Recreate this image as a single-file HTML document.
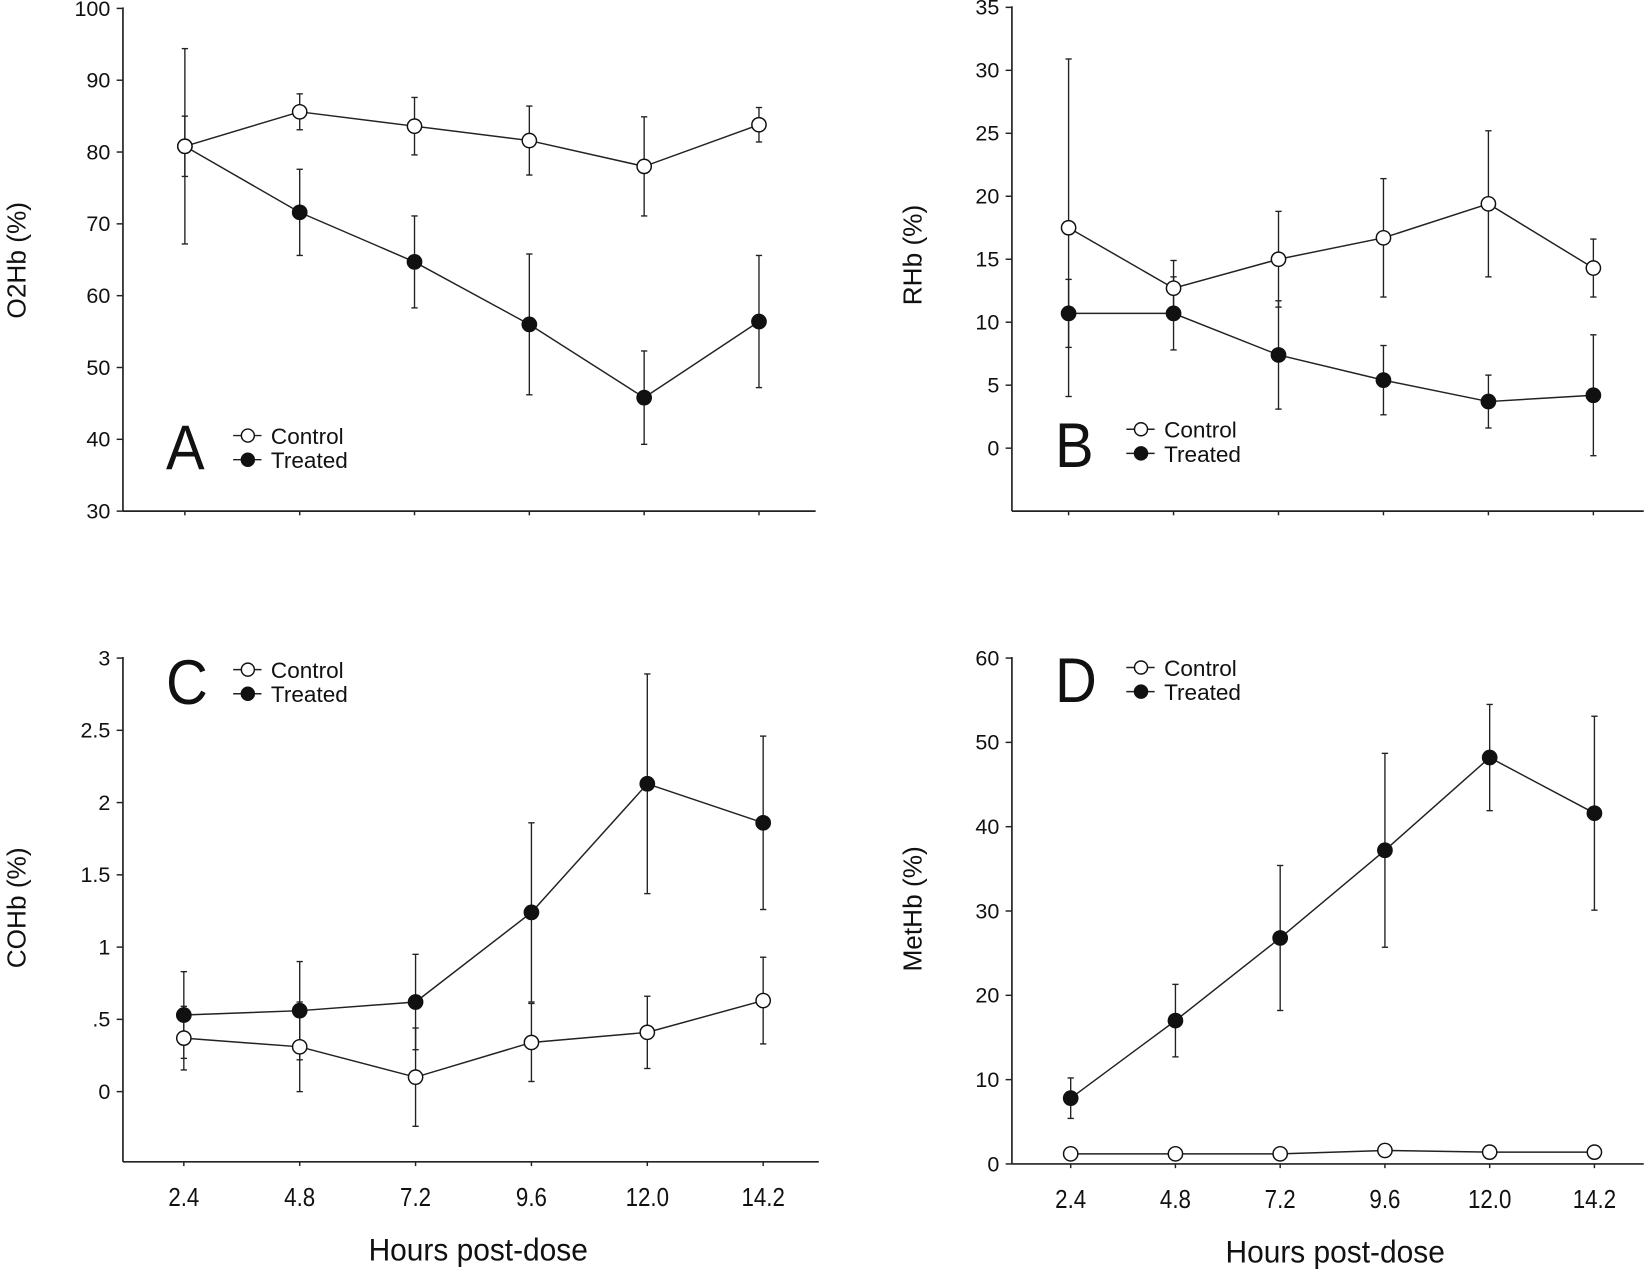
<!DOCTYPE html>
<html><head><meta charset="utf-8"><style>
html,body{margin:0;padding:0;background:#fff;}
svg{display:block;}
text{font-family:"Liberation Sans",sans-serif;fill:#111;}
</style></head>
<body>
<svg id="fig" width="1646" height="1271" viewBox="0 0 1568 1211" xmlns="http://www.w3.org/2000/svg"></svg>
<script>
const xCats = ["2.4","4.8","7.2","9.6","12.0","14.2"];
// Panel A: O2Hb
const aControl = [80.8, 85.6, 83.6, 81.6, 78.0, 83.8];
const aControlErr = [4.2, 2.5, 4.0, 4.8, 6.9, 2.4];
const aTreated = [80.8, 71.6, 64.7, 56.0, 45.8, 56.4];
const aTreatedErr = [13.6, 6.0, 6.4, 9.8, 6.5, 9.2];
const aTicks = [30,40,50,60,70,80,90,100];
const aTickLabels = ["30","40","50","60","70","80","90","100"];
// Panel B: RHb
const bControl = [17.5, 12.7, 15.0, 16.7, 19.4, 14.3];
const bControlErr = [13.4, 2.2, 3.8, 4.7, 5.8, 2.3];
const bTreated = [10.7, 10.7, 7.4, 5.4, 3.7, 4.2];
const bTreatedErr = [2.7, 2.9, 4.3, 2.75, 2.1, 4.8];
const bTicks = [0,5,10,15,20,25,30,35];
const bTickLabels = ["0","5","10","15","20","25","30","35"];
// Panel C: COHb
const cControl = [0.37, 0.31, 0.10, 0.34, 0.41, 0.63];
const cControlErr = [0.22, 0.31, 0.34, 0.27, 0.25, 0.30];
const cTreated = [0.53, 0.56, 0.62, 1.24, 2.13, 1.86];
const cTreatedErr = [0.30, 0.34, 0.33, 0.62, 0.76, 0.60];
const cTicks = [0,0.5,1,1.5,2,2.5,3];
const cTickLabels = ["0",".5","1","1.5","2","2.5","3"];
// Panel D: MetHb
const dControl = [1.2, 1.2, 1.2, 1.6, 1.4, 1.4];
const dControlErr = [0, 0, 0, 0, 0, 0];
const dTreated = [7.8, 17.0, 26.8, 37.2, 48.2, 41.6];
const dTreatedErr = [2.4, 4.3, 8.6, 11.5, 6.3, 11.5];
const dTicks = [0,10,20,30,40,50,60];
const dTickLabels = ["0","10","20","30","40","50","60"];

const NS = "http://www.w3.org/2000/svg";
const svg = document.getElementById('fig');
function mk(tag, attrs, parent, txt){
  const e = document.createElementNS(NS, tag);
  for (const k in attrs) e.setAttribute(k, attrs[k]);
  if (txt !== undefined) e.textContent = txt;
  (parent||svg).appendChild(e);
  return e;
}

function panel(cfg){
  const g = mk('g', {});
  
  
  const yS = v => cfg.yBot - (v - cfg.yMin) / (cfg.yMax - cfg.yMin) * (cfg.yBot - cfg.yTop);
  const xS = i => cfg.x0 + i * cfg.dx;
  const ya = mk('line', {x1:cfg.ax, y1:cfg.yTop-1, x2:cfg.ax, y2:cfg.yBot, stroke:'#222','stroke-width':1.6}, g);
  
  
  const xa = mk('line', {x1:cfg.ax, y1:cfg.yBot, x2:cfg.axEnd, y2:cfg.yBot, stroke:'#222','stroke-width':1.6}, g);
  
  
  cfg.ticks.forEach((t, i) => {
    const y = yS(t);
    mk('line', {x1:cfg.ax-6, y1:y, x2:cfg.ax, y2:y, stroke:'#222','stroke-width':1.4}, g);
    const tl = mk('text', {x:cfg.ax-12, y:y+7, 'font-size':20.5, 'text-anchor':'end'}, g, cfg.tickLabels[i]);
    
    
  });
  xCats.forEach((c, i) => {
    const x = xS(i);
    mk('line', {x1:x, y1:cfg.yBot, x2:x, y2:cfg.yBot+4, stroke:'#222','stroke-width':1.4}, g);
    if (cfg.showX) {
      const xl = mk('text', {x:x, y:cfg.yBot+42, 'font-size':25, 'text-anchor':'middle', transform:`translate(${x} 0) scale(0.85 1) translate(${-x} 0)`}, g, c);
      
      
    }
  });
  const yt = mk('text', {x:0, y:0, 'font-size':25, 'text-anchor':'middle', transform:`translate(${cfg.titleX} ${cfg.titleY}) rotate(-90)`}, g, cfg.title);
  
  
  if (cfg.showX) {
    const xt = mk('text', {x:0, y:0, 'font-size':30, 'text-anchor':'middle', transform:`translate(${(cfg.ax+cfg.axEnd)/2+7} ${cfg.yBot+94}) scale(0.95 1)`}, g, 'Hours post-dose');
    
    
  }
  const series = [
    {vals:cfg.treated, err:cfg.treatedErr, fill:'#111', name:'treated'},
    {vals:cfg.control, err:cfg.controlErr, fill:'#fff', name:'control'}
  ];
  series.forEach(s => {
    const sg = mk('g', {}, g);
    
    
    s.vals.forEach((v, i) => {
      if (s.err[i] > 0) {
        const x = xS(i), y1 = yS(v + s.err[i]), y2 = yS(v - s.err[i]);
        mk('line', {x1:x, y1:y1, x2:x, y2:y2, stroke:'#222','stroke-width':1.3}, sg);
        mk('line', {x1:x-3, y1:y1, x2:x+3, y2:y1, stroke:'#222','stroke-width':1.3}, sg);
        mk('line', {x1:x-3, y1:y2, x2:x+3, y2:y2, stroke:'#222','stroke-width':1.3}, sg);
      }
    });
    const pts = s.vals.map((v, i) => xS(i) + ',' + yS(v)).join(' ');
    const pl = mk('polyline', {points:pts, fill:'none', stroke:'#222','stroke-width':1.4}, sg);
    
    
  });
  series.forEach(s => {
    s.vals.forEach((v, i) => {
      const c = mk('circle', {cx:xS(i), cy:yS(v), r:6.8, fill:s.fill, stroke:'#111','stroke-width':1.4}, g);
      
      
    });
  });
  const L = mk('text', {x:0, y:0, 'font-size':60, transform:`translate(${cfg.lx} ${cfg.ly}) scale(0.92 1)`}, g, cfg.letter);
  
  
  [['Control','#fff',0],['Treated','#111',23]].forEach(([lab, f, off]) => {
    const lg = mk('g', {}, g);
    
    
    const cy = cfg.legY + off;
    mk('line', {x1:cfg.legX-14, y1:cy, x2:cfg.legX+13, y2:cy, stroke:'#222','stroke-width':1.4}, lg);
    mk('circle', {cx:cfg.legX, cy:cy, r:6.2, fill:f, stroke:'#111','stroke-width':1.4}, lg);
    mk('text', {x:cfg.legX+22, y:cy+8, 'font-size':21.5}, lg, lab);
  });
}

panel({name:'panel-a-o2hb', title:'O2Hb (%)', letter:'A', ax:117, axEnd:777, yTop:8, yBot:487, yMin:30, yMax:100,
  x0:176, dx:109.4, ticks:aTicks, tickLabels:aTickLabels, control:aControl, controlErr:aControlErr,
  treated:aTreated, treatedErr:aTreatedErr, titleX:24, titleY:248, lx:158, ly:447, legX:236, legY:415, showX:false});
panel({name:'panel-b-rhb', title:'RHb (%)', letter:'B', ax:964, axEnd:1566, yTop:7, yBot:487, yMin:-5, yMax:35,
  x0:1018, dx:100, ticks:bTicks, tickLabels:bTickLabels, control:bControl, controlErr:bControlErr,
  treated:bTreated, treatedErr:bTreatedErr, titleX:878, titleY:243, lx:1005, ly:445, legX:1087, legY:409, showX:false});
panel({name:'panel-c-cohb', title:'COHb (%)', letter:'C', ax:117, axEnd:780, yTop:627, yBot:1107, yMin:-0.486, yMax:3,
  x0:175, dx:110.4, ticks:cTicks, tickLabels:cTickLabels, control:cControl, controlErr:cControlErr,
  treated:cTreated, treatedErr:cTreatedErr, titleX:24, titleY:865, lx:158, ly:671, legX:236, legY:638, showX:true});
panel({name:'panel-d-methb', title:'MetHb (%)', letter:'D', ax:964, axEnd:1566, yTop:627, yBot:1109, yMin:0, yMax:60,
  x0:1020, dx:99.8, ticks:dTicks, tickLabels:dTickLabels, control:dControl, controlErr:dControlErr,
  treated:dTreated, treatedErr:dTreatedErr, titleX:878, titleY:866, lx:1005, ly:669, legX:1087, legY:636, showX:true});
</script>
</body></html>
